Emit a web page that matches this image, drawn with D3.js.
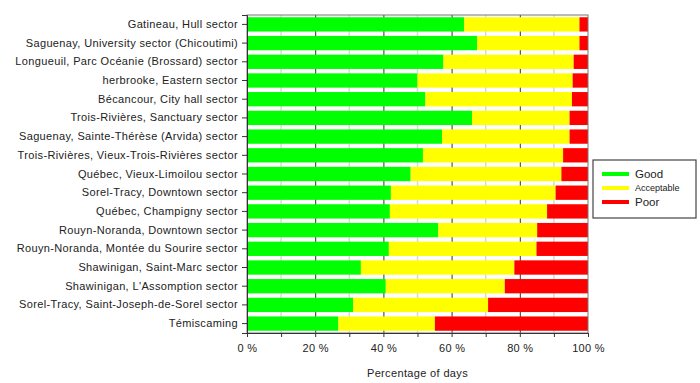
<!DOCTYPE html>
<html>
<head>
<meta charset="utf-8">
<script src="https://cdn.jsdelivr.net/npm/d3@7"></script>
<style>
  body { margin: 0; background: #fff; }
  text { font-family: "Liberation Sans", Arial, sans-serif; fill: #222; }
</style>
</head>
<body>
<div class="container"></div>
<script>
let sectors = [
  'Gatineau, Hull sector',
  'Saguenay, University sector (Chicoutimi)',
  'Longueuil, Parc Océanie (Brossard) sector',
  'herbrooke, Eastern sector',
  'Bécancour, City hall sector',
  'Trois-Rivières, Sanctuary sector',
  'Saguenay, Sainte-Thérèse (Arvida) sector',
  'Trois-Rivières, Vieux-Trois-Rivières sector',
  'Québec, Vieux-Limoilou sector',
  'Sorel-Tracy, Downtown sector',
  'Québec, Champigny sector',
  'Rouyn-Noranda, Downtown sector',
  'Rouyn-Noranda, Montée du Sourire sector',
  'Shawinigan, Saint-Marc sector',
  "Shawinigan, L'Assomption sector",
  'Sorel-Tracy, Saint-Joseph-de-Sorel sector',
  'Témiscaming'
];

let good = [63.7, 67.5, 57.6, 50.0, 52.3, 66.0, 57.2, 51.6, 48.0, 42.2, 41.9, 56.1, 41.6, 33.4, 40.7, 31.1, 26.8];
let acceptable = [33.8, 30.0, 38.2, 45.5, 43.0, 28.6, 37.4, 41.1, 44.2, 48.3, 46.1, 29.0, 43.3, 45.0, 34.9, 39.6, 28.3];
let poor = [2.5, 2.5, 4.2, 4.5, 4.7, 5.4, 5.4, 7.3, 7.8, 9.5, 12.0, 14.9, 15.1, 21.6, 24.4, 29.3, 44.9];

let categories = ['Good', 'Acceptable', 'Poor'];
let colors = ['#00ff00', '#ffff00', '#ff0000'];
let xTicks = [0, 20, 40, 60, 80, 100];

let width = 700;
let height = 383;
let margin = { top: 15, right: 112, bottom: 50, left: 247 };

let svg = d3
  .select('.container')
  .append('svg')
  .attr('width', width)
  .attr('height', height);

let xScale = d3
  .scaleLinear()
  .domain([0, 100])
  .range([margin.left, width - margin.right]);

let yScale = d3
  .scaleBand()
  .domain(sectors)
  .range([margin.top, height - margin.bottom])
  .paddingInner(0.235)
  .paddingOuter(0.12);

// grid lines: light at odd tens, dark at major ticks
let minor = d3.range(10, 100, 20);
svg
  .append('g')
  .selectAll('line')
  .data(minor)
  .enter()
  .append('line')
  .attr('x1', (d) => xScale(d))
  .attr('x2', (d) => xScale(d))
  .attr('y1', margin.top)
  .attr('y2', height - margin.bottom)
  .attr('stroke', '#d8d8d8')
  .attr('stroke-width', 1.5);

svg
  .append('g')
  .selectAll('line')
  .data(xTicks.slice(1, -1))
  .enter()
  .append('line')
  .attr('x1', (d) => xScale(d) + 0.5)
  .attr('x2', (d) => xScale(d) + 0.5)
  .attr('y1', margin.top)
  .attr('y2', height - margin.bottom)
  .attr('stroke', '#333')
  .attr('stroke-width', 1);

// stacked bars
let rows = sectors.map((s, i) => ({ name: s, Good: good[i], Acceptable: acceptable[i], Poor: poor[i] }));
let stacked = d3.stack().keys(categories)(rows);

svg
  .append('g')
  .selectAll('g')
  .data(stacked)
  .enter()
  .append('g')
  .attr('fill', (d, i) => colors[i])
  .selectAll('rect')
  .data((d) => d)
  .enter()
  .append('rect')
  .attr('x', (d) => xScale(d[0]))
  .attr('y', (d) => yScale(d.data.name))
  .attr('width', (d) => xScale(d[1]) - xScale(d[0]))
  .attr('height', yScale.bandwidth());

// frame
svg
  .append('rect')
  .attr('x', margin.left)
  .attr('y', margin.top)
  .attr('width', xScale(100) - margin.left)
  .attr('height', height - margin.bottom - margin.top)
  .attr('fill', 'none')
  .attr('stroke', '#777')
  .attr('stroke-width', 1);

// x axis
let xAxis = d3
  .axisBottom(xScale)
  .tickValues(d3.range(0, 101, 10))
  .tickSize(4)
  .tickFormat((d) => (d % 20 === 0 ? d + ' %' : ''));

let gx = svg
  .append('g')
  .attr('transform', 'translate(0,' + (height - margin.bottom) + ')')
  .call(xAxis);
gx.select('.domain').attr('stroke', '#333');
gx.selectAll('line').attr('stroke', '#333');
gx.selectAll('text')
  .attr('font-size', 11)
  .attr('dy', '1.1em')
  .attr('letter-spacing', '0.3px')
  .attr('font-family', '"Liberation Sans", Arial, sans-serif');

// y axis
let yAxis = d3.axisLeft(yScale).tickSize(5).tickPadding(4);
let gy = svg
  .append('g')
  .attr('transform', 'translate(' + margin.left + ',0)')
  .call(yAxis);
gy.select('.domain').attr('stroke', '#333');
gy.selectAll('line').attr('stroke', '#333');
gy.selectAll('text')
  .attr('font-size', 11)
  .attr('letter-spacing', '0.36px')
  .attr('font-family', '"Liberation Sans", Arial, sans-serif');

// axis title
svg
  .append('text')
  .attr('x', (xScale(0) + xScale(100)) / 2)
  .attr('y', 377)
  .attr('text-anchor', 'middle')
  .attr('font-size', 11)
  .attr('letter-spacing', '0.35px')
  .text('Percentage of days');

// legend
let legend = svg.append('g').attr('transform', 'translate(593,160)');
legend
  .append('rect')
  .attr('width', 103)
  .attr('height', 58)
  .attr('fill', '#fff')
  .attr('stroke', '#444')
  .attr('stroke-width', 1.2);

let items = legend
  .selectAll('.item')
  .data(categories)
  .enter()
  .append('g')
  .attr('class', 'item')
  .attr('transform', (d, i) => 'translate(0,' + (14 + i * 14) + ')');

items
  .append('line')
  .attr('x1', 9)
  .attr('x2', 36)
  .attr('stroke', (d, i) => colors[i])
  .attr('stroke-width', 4);

items
  .append('text')
  .attr('x', 42)
  .attr('dy', '0.35em')
  .attr('font-size', (d) => (d === 'Acceptable' ? 9 : 11.5))
  .text((d) => d);
</script>
</body>
</html>
